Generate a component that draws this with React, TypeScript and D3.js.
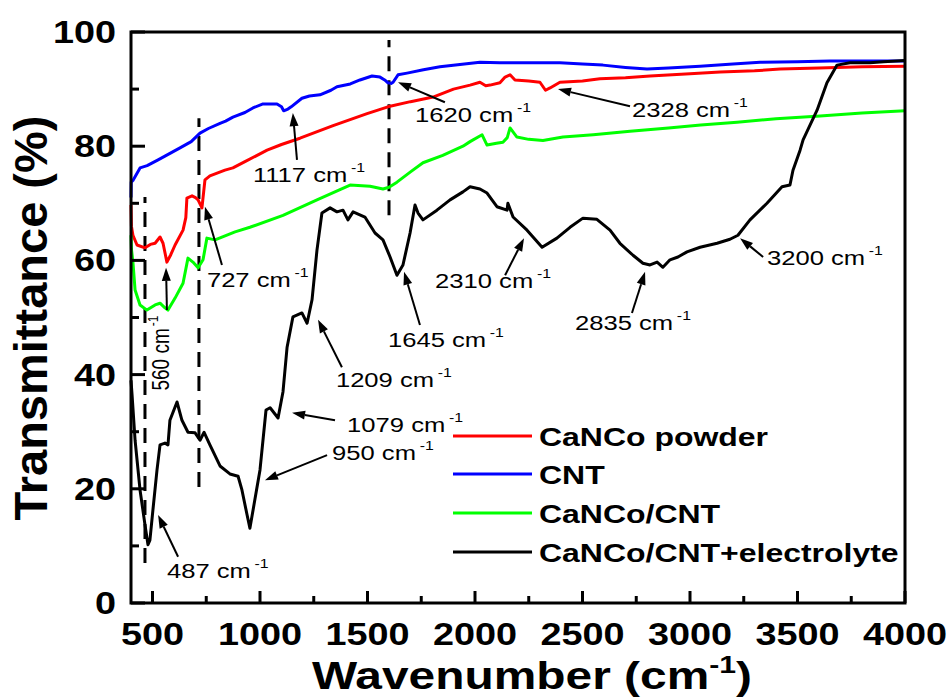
import React from 'react';
import * as d3 from 'd3';

// ---------- data (wavenumber cm-1, transmittance %) ----------
const cntWn = [400, 401, 409, 442, 475, 526, 560, 628, 680, 721, 760, 814, 840, 874, 930, 967, 1014, 1079, 1100, 1110, 1130, 1145, 1195, 1230, 1279, 1330, 1358, 1420, 1465, 1521, 1558, 1580, 1595, 1610, 1619, 1642, 1684, 1760, 1837, 1930, 2023, 2116, 2250, 2395, 2500, 2595, 2700, 2800, 2900, 3047, 3200, 3326, 3500, 3651, 3800, 4000];
const cntT = [71, 73.7, 74, 76.2, 76.6, 77.6, 78.3, 79.7, 80.8, 82.3, 83.1, 84.0, 84.4, 85.1, 85.9, 86.7, 87.4, 87.4, 86.9, 86.2, 86.5, 86.9, 88.4, 88.8, 89.0, 89.8, 90.4, 90.9, 91.6, 92.3, 92.1, 91.6, 91.1, 91.0, 91.2, 92.5, 92.8, 93.4, 93.9, 94.3, 94.7, 94.6, 94.6, 94.6, 94.4, 94.2, 93.8, 93.5, 93.7, 94.0, 94.4, 94.7, 94.8, 94.9, 94.9, 94.9];

const powderWn = [400, 402, 409, 428, 465, 490, 512, 535, 549, 567, 585, 605, 642, 655, 660, 684, 700, 712, 730, 738, 744, 767, 837, 874, 930, 1033, 1100, 1186, 1340, 1498, 1595, 1700, 1805, 1900, 1977, 2023, 2050, 2070, 2116, 2140, 2163, 2186, 2250, 2302, 2328, 2349, 2395, 2500, 2581, 2700, 2814, 3000, 3140, 3300, 3419, 3600, 3800, 4000];
const powderT = [69.7, 66, 64.4, 62.7, 62.2, 62.8, 63.0, 64.1, 63.0, 59.7, 61.0, 62.7, 65.3, 67.5, 70.9, 71.3, 71.0, 70.6, 69.2, 72, 74.1, 74.8, 75.8, 76.2, 77.3, 79.3, 80.3, 81.4, 83.6, 85.7, 86.9, 87.8, 88.6, 90.0, 90.7, 91.2, 90.6, 90.7, 91.1, 92.1, 92.5, 91.6, 91.4, 91.2, 89.8, 90.2, 91.2, 91.4, 91.8, 92.0, 92.3, 92.7, 93.0, 93.2, 93.5, 93.7, 93.9, 94.0];

const compWn = [400, 402, 409, 419, 442, 474, 512, 535, 558, 572, 605, 642, 665, 688, 712, 735, 753, 791, 884, 953, 1107, 1265, 1419, 1512, 1572, 1600, 1637, 1700, 1758, 1850, 1944, 1977, 2033, 2056, 2100, 2130, 2150, 2163, 2195, 2250, 2316, 2409, 2550, 2721, 2900, 3050, 3219, 3400, 3605, 3800, 4000];
const compT = [64.4, 62, 59.7, 54.8, 52.2, 51.3, 52.2, 52.5, 51.7, 51.3, 53.4, 56.0, 60.4, 59.7, 58.7, 60.1, 63.9, 63.6, 65.0, 65.8, 67.9, 70.6, 73.2, 73.0, 72.5, 72.8, 73.7, 75.5, 77.1, 78.4, 80.0, 80.8, 82.0, 80.2, 80.5, 80.7, 81.5, 83.2, 81.6, 81.2, 81.0, 81.6, 82.0, 82.6, 83.2, 83.7, 84.2, 84.8, 85.3, 85.8, 86.2];

const elecWn = [400, 405, 419, 442, 465, 479, 488, 502, 521, 535, 558, 572, 581, 614, 637, 665, 698, 721, 740, 767, 814, 860, 898, 916, 940, 953, 972, 1000, 1028, 1047, 1084, 1107, 1126, 1153, 1195, 1219, 1242, 1265, 1288, 1326, 1358, 1386, 1409, 1433, 1488, 1535, 1572, 1605, 1637, 1665, 1698, 1721, 1735, 1758, 1823, 1884, 1944, 1977, 2023, 2056, 2102, 2149, 2153, 2177, 2242, 2312, 2381, 2442, 2502, 2567, 2628, 2674, 2735, 2781, 2814, 2847, 2874, 2907, 2944, 2986, 3047, 3126, 3186, 3223, 3279, 3358, 3428, 3465, 3479, 3512, 3526, 3591, 3637, 3684, 3744, 3837, 3900, 4000];
const elecT = [39, 36.4, 28.5, 19.8, 13.7, 10.2, 11.0, 16.3, 23.3, 27.7, 28.0, 27.7, 32.0, 35.2, 32.0, 29.9, 29.8, 28.5, 29.9, 27.7, 24.0, 22.6, 22.2, 19.8, 15.4, 13.1, 17.2, 23.3, 33.8, 34.2, 32.4, 37.0, 44.8, 50.1, 50.8, 49.0, 53.1, 61.8, 68.3, 69.2, 68.5, 68.8, 67.1, 68.5, 67.6, 64.8, 63.6, 60.6, 57.4, 59.2, 64.8, 69.7, 68.3, 67.1, 68.8, 70.6, 72.0, 72.9, 72.5, 71.8, 69.4, 68.8, 70.0, 67.6, 65.3, 62.3, 63.9, 65.8, 67.4, 67.2, 65.3, 63.0, 60.9, 59.5, 59.2, 59.7, 58.8, 60.1, 60.6, 61.5, 62.3, 63.0, 63.7, 64.4, 67.1, 70.0, 72.9, 73.2, 75.8, 79.3, 81.1, 86.3, 91.1, 94.2, 94.6, 94.6, 94.8, 95.0];

const seriesNames = ['CaNCo powder', 'CNT', 'CaNCo/CNT', 'CaNCo/CNT+electrolyte'];
const seriesColors = ['#ff0000', '#0000ff', '#00ff00', '#000000'];

const xTicks = [500, 1000, 1500, 2000, 2500, 3000, 3500, 4000];
const xMinor = [750, 1250, 1750, 2250, 2750, 3250, 3750];
const yTicks = [0, 20, 40, 60, 80, 100];
const yMinor = [10, 30, 50, 70, 90];

// annotations: label, text anchor point, arrow tail, arrow head (data coords)
const annLabels = ['1117', '727', '1620', '2328', '1645', '2310', '2835', '3200', '1209', '1079', '950', '487'];
const annText = [[967, 73.7], [753, 55.3], [1721, 84.2], [2730, 85.1], [1595, 44.8], [1814, 55.2], [2465, 47.8], [3358, 59.2], [1353, 37.8], [1405, 29.9], [1335, 25.0], [567, 4.4]];
const annTail = [[1172, 77.6], [823, 59.2], [1860, 87.7], [2721, 87.0], [1744, 48.7], [2140, 57.4], [2730, 50.8], [3340, 60.6], [1381, 41.3], [1349, 32.0], [1312, 25.9], [619, 8.1]];
const annHead = [[1153, 85.8], [744, 69.4], [1642, 91.2], [2386, 90.0], [1670, 58.0], [2228, 63.9], [2791, 58.0], [3233, 63.9], [1270, 49.6], [1149, 33.3], [1023, 21.5], [526, 15.4]];

const dashWn = [465, 716, 1600];
const dashFrom = [7.0, 20.3, 67.9];
const dashTo = [71.1, 84.9, 98.6];

const FONT = '"Liberation Sans", Arial, sans-serif';
const SX = 1.22;

function Arrow({ x1, y1, x2, y2 }: { x1: number; y1: number; x2: number; y2: number }) {
  const dx = x2 - x1, dy = y2 - y1;
  const len = Math.sqrt(dx * dx + dy * dy);
  const ux = dx / len, uy = dy / len;
  const hl = 13, hw = 4.5;
  const bx = x2 - ux * hl, by = y2 - uy * hl;
  const pts = `${x2},${y2} ${bx - uy * hw},${by + ux * hw} ${bx + uy * hw},${by - ux * hw}`;
  return (
    <g>
      <line x1={x1} y1={y1} x2={bx} y2={by} stroke="#000" strokeWidth={2} />
      <polygon points={pts} fill="#000" />
    </g>
  );
}

export default function App() {
  const x = d3.scaleLinear().domain([400, 4000]).range([131, 905]);
  const y = d3.scaleLinear().domain([0, 100]).range([603, 32]);
  const line = d3.line<[number, number]>().x(d => x(d[0])).y(d => y(d[1]));

  const series: [number, number][][] = [
    powderWn.map((w, i) => [w, powderT[i]]),
    cntWn.map((w, i) => [w, cntT[i]]),
    compWn.map((w, i) => [w, compT[i]]),
    elecWn.map((w, i) => [w, elecT[i]]),
  ];

  const legendY = [436, 474, 513, 552];

  return (
    <svg width={952} height={699} style={{ position: 'absolute', left: 0, top: 0, background: '#fff' }} fontFamily={FONT}>
      <rect x={0} y={0} width={952} height={699} fill="#fff" />
      {/* dashed guide lines */}
      {dashWn.map((w, i) => (
        <line key={'d' + i} x1={x(w)} x2={x(w)} y1={y(dashFrom[i])} y2={y(dashTo[i])} stroke="#000" strokeWidth={3} strokeDasharray="15 9" />
      ))}
      {/* series */}
      {series.map((s, i) => (
        <path key={'s' + i} d={line(s) || ''} fill="none" stroke={seriesColors[i]} strokeWidth={3} strokeLinejoin="round" />
      ))}
      {/* frame */}
      <rect x={131} y={32} width={774} height={571} fill="none" stroke="#000" strokeWidth={3} />
      {/* x ticks */}
      {xTicks.map(t => (
        <line key={'xt' + t} x1={x(t)} x2={x(t)} y1={603} y2={591} stroke="#000" strokeWidth={3} />
      ))}
      {xMinor.map(t => (
        <line key={'xm' + t} x1={x(t)} x2={x(t)} y1={603} y2={596} stroke="#000" strokeWidth={3} />
      ))}
      {xTicks.map(t => (
        <g key={'xl' + t} transform={`translate(${x(t)},645) scale(${SX},1)`}>
          <text textAnchor="middle" fontSize={31} fontWeight="bold">{t}</text>
        </g>
      ))}
      {/* y ticks */}
      {yTicks.map(t => (
        <line key={'yt' + t} x1={131} x2={145} y1={y(t)} y2={y(t)} stroke="#000" strokeWidth={3} />
      ))}
      {yMinor.map(t => (
        <line key={'ym' + t} x1={131} x2={139} y1={y(t)} y2={y(t)} stroke="#000" strokeWidth={3} />
      ))}
      {yTicks.map(t => (
        <g key={'yl' + t} transform={`translate(116,${y(t) + 11}) scale(${SX},1)`}>
          <text textAnchor="end" fontSize={31} fontWeight="bold">{t}</text>
        </g>
      ))}
      {/* axis titles */}
      <g transform={`translate(532,689) scale(1.26,1)`}>
        <text textAnchor="middle" fontSize={38} fontWeight="bold">
          Wavenumber (cm<tspan fontSize={24} dy={-16}>-1</tspan><tspan dy={16}>)</tspan>
        </text>
      </g>
      <g transform="translate(47,318) rotate(-90)">
        <text textAnchor="middle" fontSize={47} fontWeight="bold">Transmittance (%)</text>
      </g>
      {/* annotations */}
      {annLabels.map((lab, i) => (
        <g key={'a' + i}>
          <Arrow x1={x(annTail[i][0])} y1={y(annTail[i][1])} x2={x(annHead[i][0])} y2={y(annHead[i][1])} />
          <g transform={`translate(${x(annText[i][0])},${y(annText[i][1])}) scale(${SX},1)`}>
            <text fontSize={21}>
              {lab} cm<tspan fontSize={13} dx={3} dy={-10}>-1</tspan>
            </text>
          </g>
        </g>
      ))}
      {/* rotated 560 label */}
      <Arrow x1={x(567)} y1={y(51.3)} x2={x(563)} y2={y(58.7)} />
      <g transform={`translate(${x(576)},${y(37.2)}) scale(${SX},1) rotate(-90)`}>
        <text fontSize={19}>
          560 cm<tspan fontSize={12} dx={2} dy={-9}>-1</tspan>
        </text>
      </g>
      {/* legend */}
      {seriesNames.map((n, i) => (
        <g key={'l' + i}>
          <line x1={453} x2={532} y1={legendY[i]} y2={legendY[i]} stroke={seriesColors[i]} strokeWidth={3} />
          <g transform={`translate(539,${legendY[i] + 9.5}) scale(1.23,1)`}>
            <text fontSize={26} fontWeight="bold">{n}</text>
          </g>
        </g>
      ))}
    </svg>
  );
}
